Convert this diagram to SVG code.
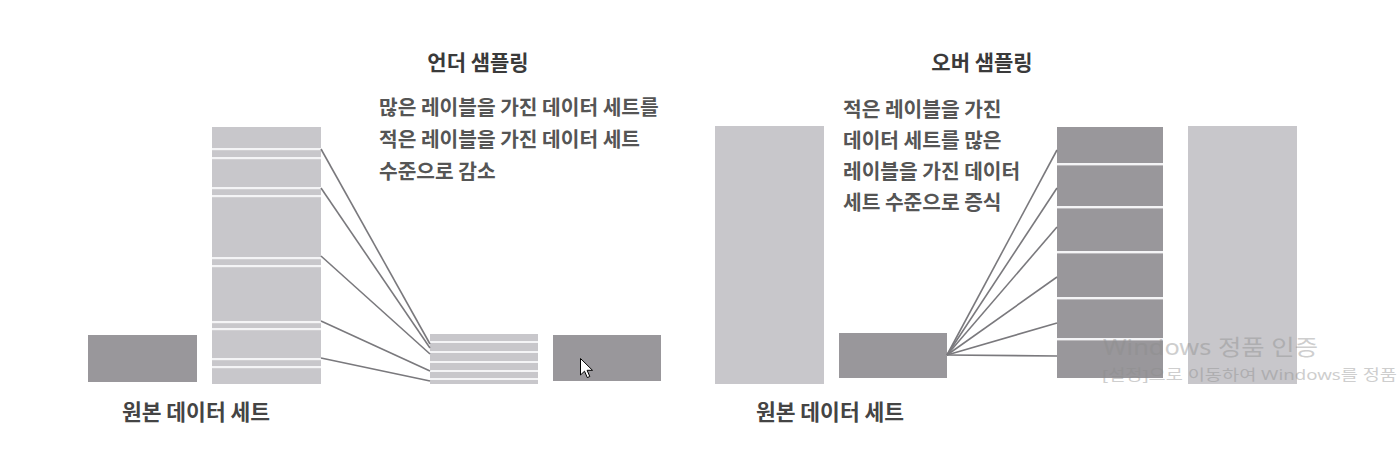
<svg xmlns="http://www.w3.org/2000/svg" width="1400" height="449" viewBox="0 0 1400 449">
<style>
.light{fill:#c8c7cb}
.dark{fill:#99979b}
.sep{fill:#f4f4f6}
.conn{stroke:#7a797d;stroke-width:1.6;fill:none}
.title{font-family:"Noto Sans CJK KR","Noto Sans",sans-serif;font-size:21px;font-weight:bold;fill:#3a3a3a}
.body{font-family:"Noto Sans CJK KR","Noto Sans",sans-serif;font-size:20.3px;font-weight:bold;fill:#555555}
.label{font-family:"Noto Sans CJK KR","Noto Sans",sans-serif;font-size:21.5px;font-weight:bold;fill:#444444}
.wm{font-family:"Noto Sans","Noto Sans CJK KR",sans-serif;fill:#8c8c8c;opacity:0.42}
</style>
<rect width="1400" height="449" fill="#ffffff"/>

<g id="under-title">
<text class="title" x="478" y="70" text-anchor="middle">언더 샘플링</text>
</g>
<g id="under-desc">
<text class="body" x="379" y="115">많은 레이블을 가진 데이터 세트를</text>
<text class="body" x="379" y="147">적은 레이블을 가진 데이터 세트</text>
<text class="body" x="379" y="179">수준으로 감소</text>
</g>

<g id="under-original-small">
<rect class="dark" x="88" y="335" width="109" height="47"/>
</g>
<g id="under-original-large">
<rect class="light" x="212" y="127" width="109" height="257"/>
<rect class="sep" x="212" y="148" width="109" height="2.2"/>
<rect class="sep" x="212" y="157" width="109" height="2.2"/>
<rect class="sep" x="212" y="187" width="109" height="2.2"/>
<rect class="sep" x="212" y="195" width="109" height="2.2"/>
<rect class="sep" x="212" y="257" width="109" height="2.2"/>
<rect class="sep" x="212" y="265" width="109" height="2.2"/>
<rect class="sep" x="212" y="321" width="109" height="2.2"/>
<rect class="sep" x="212" y="328" width="109" height="2.2"/>
<rect class="sep" x="212" y="358" width="109" height="2.2"/>
<rect class="sep" x="212" y="366" width="109" height="2.2"/>
</g>
<g id="under-result">
<rect class="light" x="430" y="334" width="108" height="50"/>
<rect class="sep" x="430" y="341" width="108" height="2"/>
<rect class="sep" x="430" y="351" width="108" height="2"/>
<rect class="sep" x="430" y="361" width="108" height="2"/>
<rect class="sep" x="430" y="370" width="108" height="2"/>
<rect class="sep" x="430" y="378" width="108" height="2"/>
</g>
<g id="under-minority">
<rect class="dark" x="553" y="335" width="108" height="46"/>
</g>
<g id="under-label">
<text class="label" x="196" y="420" text-anchor="middle">원본 데이터 세트</text>
</g>

<g id="over-title">
<text class="title" x="982" y="70" text-anchor="middle">오버 샘플링</text>
</g>
<g id="over-desc">
<text class="body" x="843" y="117">적은 레이블을 가진</text>
<text class="body" x="843" y="148">데이터 세트를 많은</text>
<text class="body" x="843" y="179">레이블을 가진 데이터</text>
<text class="body" x="843" y="210">세트 수준으로 증식</text>
</g>
<g id="over-majority">
<rect class="light" x="715" y="126" width="109" height="258"/>
</g>
<g id="over-minority">
<rect class="dark" x="839" y="333" width="108" height="45"/>
</g>
<g id="over-result">
<rect class="dark" x="1057" y="127" width="106" height="251"/>
<rect class="sep" x="1057" y="163" width="106" height="2.4"/>
<rect class="sep" x="1057" y="206" width="106" height="2.4"/>
<rect class="sep" x="1057" y="251" width="106" height="2.4"/>
<rect class="sep" x="1057" y="297" width="106" height="2.4"/>
<rect class="sep" x="1057" y="338" width="106" height="2.4"/>
</g>
<g id="over-majority-copy">
<rect class="light" x="1188" y="126" width="109" height="258"/>
</g>
<g id="over-label">
<text class="label" x="830" y="420" text-anchor="middle">원본 데이터 세트</text>
</g>

<g id="connectors">
<line class="conn" x1="321" y1="149" x2="430" y2="344"/>
<line class="conn" x1="321" y1="188" x2="430" y2="348"/>
<line class="conn" x1="321" y1="256" x2="430" y2="354"/>
<line class="conn" x1="321" y1="321" x2="430" y2="371"/>
<line class="conn" x1="321" y1="358" x2="430" y2="381"/>
<line class="conn" x1="947" y1="355" x2="1057" y2="150"/>
<line class="conn" x1="947" y1="355" x2="1057" y2="188"/>
<line class="conn" x1="947" y1="355" x2="1057" y2="227"/>
<line class="conn" x1="947" y1="355" x2="1057" y2="277"/>
<line class="conn" x1="947" y1="355" x2="1057" y2="323"/>
<line class="conn" x1="947" y1="355" x2="1057" y2="356"/>
</g>

<g id="cursor">
<path d="M580.5 358.5 L580.5 375 L584.5 371.2 L587.3 377.6 L589.8 376.5 L587.1 370.3 L592.5 370.3 Z" fill="#ffffff" stroke="#000000" stroke-width="1" stroke-linejoin="miter"/>
</g>

<g id="watermark">
<text class="wm" x="1103" y="355" font-size="22" textLength="215" lengthAdjust="spacingAndGlyphs">Windows 정품 인증</text>
<text class="wm" x="1102" y="380" font-size="15" textLength="295" lengthAdjust="spacingAndGlyphs">[설정]으로 이동하여 Windows를 정품</text>
</g>
</svg>
